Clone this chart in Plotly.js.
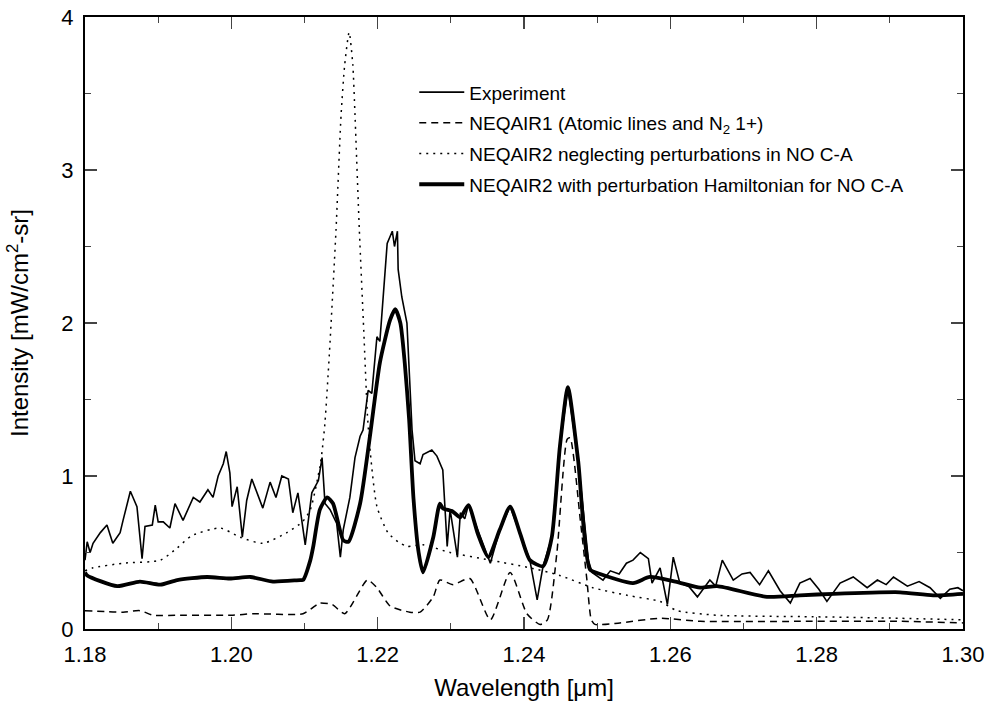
<!DOCTYPE html>
<html><head><meta charset="utf-8">
<script src="https://cdn.plot.ly/plotly-3.0.1.min.js"></script>
<style>html,body{margin:0;padding:0;background:#fff}#chart{width:989px;height:713px}</style>
</head><body><div id="chart"></div>
<script>
// Experiment
const expX = [1.1800,1.1803,1.1807,1.1811,1.1821,1.1830,1.1838,1.1848,1.1852,1.1862,1.1871,1.1878,1.1882,1.1892,1.1896,1.1900,1.1907,1.1916,1.1923,1.1934,1.1948,1.1957,1.1968,1.1975,1.1982,1.1989,1.1993,1.1998,1.2001,1.2008,1.2015,1.2021,1.2028,1.2037,1.2043,1.2053,1.2061,1.2069,1.2078,1.2084,1.2091,1.2101,1.2110,1.2119,1.2124,1.2128,1.2135,1.2144,1.2149,1.2153,1.2162,1.2169,1.2176,1.2180,1.2187,1.2192,1.2199,1.2203,1.2207,1.2213,1.2220,1.2223,1.2227,1.2228,1.2233,1.2240,1.2247,1.2251,1.2258,1.2262,1.2274,1.2281,1.2289,1.2295,1.2299,1.2309,1.2313,1.2319,1.2324,1.2337,1.2354,1.2367,1.2381,1.2395,1.2408,1.2418,1.2426,1.2438,1.2449,1.2460,1.2474,1.2488,1.2493,1.2508,1.2518,1.2530,1.2540,1.2549,1.2559,1.2570,1.2575,1.2586,1.2596,1.2604,1.2613,1.2625,1.2637,1.2654,1.2662,1.2671,1.2686,1.2698,1.2709,1.2722,1.2734,1.2750,1.2764,1.2777,1.2791,1.2803,1.2814,1.2832,1.2850,1.2869,1.2883,1.2895,1.2905,1.2924,1.2940,1.2955,1.2969,1.2982,1.2993,1.3000];
const expY = [0.45,0.57,0.50,0.56,0.63,0.68,0.56,0.63,0.71,0.90,0.80,0.46,0.67,0.68,0.81,0.70,0.70,0.66,0.82,0.71,0.86,0.83,0.91,0.86,1.00,1.08,1.16,1.02,0.80,0.93,0.60,0.84,0.98,0.86,0.79,0.96,0.86,1.00,0.98,0.76,0.89,0.55,0.89,0.97,1.12,0.82,0.78,0.69,0.47,0.65,0.86,1.12,1.26,1.30,1.56,1.54,1.91,1.88,2.15,2.52,2.60,2.50,2.60,2.35,2.17,2.00,1.30,1.10,1.08,1.14,1.17,1.13,1.04,0.54,0.78,0.47,0.76,0.72,0.81,0.65,0.43,0.65,0.80,0.62,0.45,0.19,0.41,0.60,1.19,1.58,1.10,0.45,0.37,0.32,0.38,0.36,0.43,0.45,0.50,0.46,0.30,0.40,0.16,0.47,0.30,0.28,0.21,0.32,0.28,0.45,0.32,0.36,0.37,0.29,0.38,0.25,0.17,0.30,0.33,0.26,0.18,0.30,0.34,0.27,0.32,0.29,0.34,0.28,0.31,0.27,0.20,0.26,0.27,0.25];

// NEQAIR1 (dashed)
const n1X = [1.1800,1.1852,1.1875,1.1893,1.1930,1.2002,1.2030,1.2098,1.2117,1.2121,1.2138,1.2155,1.2186,1.2199,1.2217,1.2244,1.2258,1.2276,1.2285,1.2303,1.2326,1.2354,1.2381,1.2404,1.2422,1.2432,1.2445,1.2459,1.2463,1.2477,1.2486,1.2492,1.2497,1.2531,1.2586,1.2641,1.2777,1.2914,1.3000];
const n1Y = [0.12,0.11,0.12,0.09,0.09,0.09,0.10,0.10,0.16,0.17,0.16,0.10,0.32,0.27,0.15,0.11,0.11,0.21,0.32,0.29,0.33,0.06,0.37,0.10,0.03,0.06,0.50,1.24,1.25,0.71,0.32,0.06,0.03,0.04,0.07,0.05,0.05,0.05,0.04];

// NEQAIR2 neglecting perturbations (dotted)
const n2X = [1.1800,1.1811,1.1852,1.1903,1.1926,1.1946,1.1985,1.2012,1.2043,1.2076,1.2097,1.2108,1.2121,1.2124,1.2128,1.2134,1.2143,1.2150,1.2155,1.2161,1.2166,1.2169,1.2175,1.2181,1.2186,1.2190,1.2199,1.2214,1.2228,1.2240,1.2262,1.2299,1.2354,1.2408,1.2449,1.2494,1.2541,1.2586,1.2609,1.2664,1.2795,1.2914,1.3000];
const n2Y = [0.38,0.40,0.43,0.45,0.53,0.61,0.66,0.60,0.56,0.63,0.70,0.78,1.06,1.16,1.35,1.80,2.60,3.36,3.69,3.90,3.69,3.36,2.60,1.95,1.40,1.15,0.80,0.63,0.57,0.54,0.55,0.50,0.45,0.40,0.35,0.27,0.22,0.18,0.12,0.09,0.08,0.07,0.06];

// NEQAIR2 with perturbation Hamiltonian (thick)
const n3X = [1.1800,1.1803,1.1844,1.1875,1.1903,1.1926,1.1967,1.1998,1.2026,1.2057,1.2094,1.2098,1.2108,1.2112,1.2121,1.2131,1.2139,1.2153,1.2160,1.2176,1.2190,1.2203,1.2217,1.2224,1.2231,1.2237,1.2243,1.2249,1.2256,1.2262,1.2276,1.2285,1.2289,1.2302,1.2313,1.2324,1.2337,1.2351,1.2367,1.2381,1.2395,1.2408,1.2426,1.2438,1.2449,1.2460,1.2474,1.2490,1.2504,1.2549,1.2572,1.2607,1.2641,1.2664,1.2732,1.2777,1.2823,1.2914,1.2959,1.3000];
const n3Y = [0.37,0.35,0.28,0.31,0.29,0.32,0.34,0.33,0.34,0.31,0.32,0.32,0.45,0.54,0.78,0.86,0.82,0.58,0.57,0.82,1.28,1.74,2.02,2.09,2.00,1.74,1.37,0.85,0.50,0.37,0.60,0.82,0.79,0.77,0.73,0.81,0.62,0.47,0.65,0.80,0.62,0.45,0.41,0.60,1.19,1.58,1.10,0.39,0.36,0.30,0.34,0.31,0.27,0.28,0.21,0.22,0.23,0.24,0.22,0.23];

const legendNames = [
  'Experiment',
  'NEQAIR1 (Atomic lines and N<sub>2</sub> 1+)',
  'NEQAIR2 neglecting perturbations in NO C-A',
  'NEQAIR2 with perturbation Hamiltonian for NO C-A'
];
const xTickVals = [1.18,1.20,1.22,1.24,1.26,1.28,1.30];
const xTickText = ['1.18','1.20','1.22','1.24','1.26','1.28','1.30'];
const yTickVals = [0,1,2,3,4];

const traces = [
  {x: expX, y: expY, name: legendNames[0], mode: 'lines', legendgroup:'a', line: {color: '#000', width: 1.6}},
  {x: n1X, y: n1Y, name: legendNames[1], mode: 'lines', legendgroup:'b', line: {color: '#000', width: 1.5, dash: '7px,5px', shape:'spline', smoothing:0.6}},
  {x: n2X, y: n2Y, name: legendNames[2], mode: 'lines', legendgroup:'c', line: {color: '#000', width: 1.5, dash: '2px,5px', shape:'spline', smoothing:0.6}},
  {x: n3X, y: n3Y, name: legendNames[3], mode: 'lines', legendgroup:'d', line: {color: '#000', width: 3.8, shape:'spline', smoothing:0.6}}
];

const fontFam = 'Liberation Sans, Arial, Helvetica, sans-serif';
const layout = {
  width: 989, height: 713,
  margin: {l: 85, r: 26, t: 17, b: 84},
  paper_bgcolor: '#fff', plot_bgcolor: '#fff',
  font: {family: fontFam, color: '#000', size: 17},
  showlegend: true,
  legend: {x: 0.375, y: 0.908, xanchor: 'left', yanchor: 'top', bgcolor: 'rgba(0,0,0,0)', itemwidth: 45,
           font: {family: fontFam, size: 19, color: '#000'}, traceorder: 'grouped', tracegroupgap: 3},
  xaxis: {range: [1.18, 1.30], tickvals: xTickVals, ticktext: xTickText, ticks: 'inside', ticklen: 12, tickwidth: 1.5,
          showline: true, linecolor: '#000', linewidth: 2, mirror: 'allticks', showgrid: false, zeroline: false,
          minor: {dtick: 0.01, tick0: 1.18, ticks: 'inside', ticklen: 6, tickwidth: 1.2, showgrid: false},
          ticklabelstandoff: 5,
          tickfont: {size: 22}, title: {text: 'Wavelength [μm]', font: {size: 24}, standoff: 13}},
  yaxis: {range: [0, 4], tickvals: yTickVals, ticks: 'inside', ticklen: 12, tickwidth: 1.5,
          showline: true, linecolor: '#000', linewidth: 2, mirror: 'allticks', showgrid: false, zeroline: false,
          minor: {dtick: 0.5, tick0: 0, ticks: 'inside', ticklen: 6, tickwidth: 1.2, showgrid: false},
          ticklabelstandoff: 5,
          tickfont: {size: 22}, title: {text: 'Intensity [mW/cm<sup>2</sup>-sr]', font: {size: 24}, standoff: 26}}
};
Plotly.newPlot('chart', traces, layout, {displayModeBar: false, staticPlot: true});
</script></body></html>
